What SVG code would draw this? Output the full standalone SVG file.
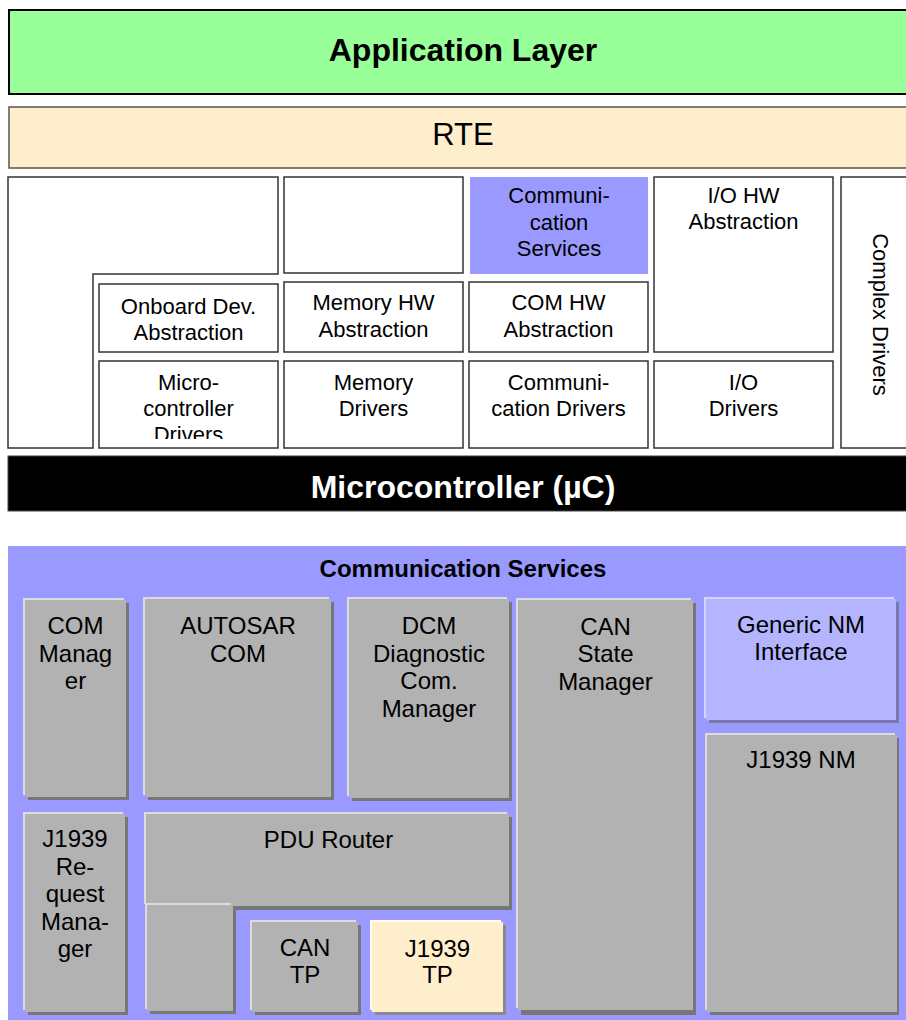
<svg xmlns="http://www.w3.org/2000/svg" width="906" height="1020" viewBox="0 0 906 1020">
<defs>
<style>
text{font-family:"Liberation Sans",Arial,Helvetica,sans-serif;fill:#000;text-anchor:middle}
.t22{font-size:22px}
.t24{font-size:24px}
.box{fill:#fff;stroke:#333;stroke-width:1.5}
.sh{fill:#777}
.hl{fill:#dcdcdc}
.bd{fill:#b2b2b2}
.shp{fill:#7a7aaa}
.hlp{fill:#d4d4ff}
.bdp{fill:#b5b5ff}
.hly{fill:#fffaf0}
.bdy{fill:#ffeecc}
.shy{fill:#8a8a8a}
</style>
<clipPath id="clipMC"><rect x="99" y="361" width="179" height="78"/></clipPath>
</defs>
<rect x="0" y="0" width="906" height="1020" fill="#fff"/>

<g id="application-layer">
<rect x="9" y="10" width="910" height="84" fill="#99ff99" stroke="#000" stroke-width="2"/>
<text x="463" y="61" style="font-size:32px;font-weight:bold">Application Layer</text>
</g>
<g id="rte">
<rect x="9" y="107" width="910" height="61" fill="#ffeecc" stroke="#555" stroke-width="1.5"/>
<text x="463" y="145" style="font-size:31px">RTE</text>
</g>

<g id="services-lshape"><path class="box" d="M8,177 H278 V274 H93 V448 H8 Z"/></g>
<g id="memory-services"><rect class="box" x="284" y="177" width="179" height="96"/></g>
<g id="communication-services-top">
<rect x="470" y="177" width="178" height="97" fill="#9999ff"/>
<text class="t22" x="559" y="203">Communi-</text>
<text class="t22" x="559" y="229.5">cation</text>
<text class="t22" x="559" y="256">Services</text>
</g>
<g id="io-hw-abstraction">
<rect class="box" x="654" y="177" width="179" height="175"/>
<text class="t22" x="743.5" y="203">I/O HW</text>
<text class="t22" x="743.5" y="229">Abstraction</text>
</g>
<g id="complex-drivers">
<rect class="box" x="841" y="177" width="80" height="271"/>
<text class="t22" transform="translate(873,314.5) rotate(90)">Complex Drivers</text>
</g>
<g id="onboard-dev-abstraction">
<rect class="box" x="99" y="284" width="179" height="68"/>
<text class="t22" x="188.5" y="314">Onboard Dev.</text>
<text class="t22" x="188.5" y="340">Abstraction</text>
</g>
<g id="memory-hw-abstraction">
<rect class="box" x="284" y="282" width="179" height="70"/>
<text class="t22" x="373.5" y="310">Memory HW</text>
<text class="t22" x="373.5" y="337">Abstraction</text>
</g>
<g id="com-hw-abstraction">
<rect class="box" x="469" y="282" width="179" height="70"/>
<text class="t22" x="558.5" y="310">COM HW</text>
<text class="t22" x="558.5" y="337">Abstraction</text>
</g>
<g id="microcontroller-drivers">
<rect class="box" x="99" y="361" width="179" height="87"/>
<g clip-path="url(#clipMC)">
<text class="t22" x="188.5" y="390">Micro-</text>
<text class="t22" x="188.5" y="416">controller</text>
<text class="t22" x="188.5" y="442">Drivers</text>
</g>
</g>
<g id="memory-drivers">
<rect class="box" x="284" y="361" width="179" height="87"/>
<text class="t22" x="373.5" y="390">Memory</text>
<text class="t22" x="373.5" y="416">Drivers</text>
</g>
<g id="communication-drivers">
<rect class="box" x="469" y="361" width="179" height="87"/>
<text class="t22" x="558.5" y="390">Communi-</text>
<text class="t22" x="558.5" y="416">cation Drivers</text>
</g>
<g id="io-drivers">
<rect class="box" x="654" y="361" width="179" height="87"/>
<text class="t22" x="743.5" y="390">I/O</text>
<text class="t22" x="743.5" y="416">Drivers</text>
</g>

<g id="microcontroller">
<rect x="8" y="456" width="910" height="55" fill="#000" stroke="#444" stroke-width="1"/>
<text x="463" y="498" style="font-size:32px;font-weight:bold;fill:#fff">Microcontroller (µC)</text>
</g>

<g id="communication-services">
<rect x="8" y="546" width="910" height="480" fill="#9999ff"/>
<text x="463" y="577" style="font-size:24px;font-weight:bold">Communication Services</text>
</g>

<g id="com-manager">
<rect class="sh" x="28" y="603" width="101" height="197"/>
<rect class="hl" x="23" y="598" width="101" height="197"/>
<rect class="bd" x="25" y="600" width="101" height="197"/>
<text class="t24" x="75.5" y="634">COM</text>
<text class="t24" x="75.5" y="661.5">Manag</text>
<text class="t24" x="75.5" y="689">er</text>
</g>
<g id="autosar-com">
<rect class="sh" x="148" y="602" width="186" height="198"/>
<rect class="hl" x="143" y="597" width="186" height="198"/>
<rect class="bd" x="145" y="599" width="186" height="198"/>
<text class="t24" x="238" y="634">AUTOSAR</text>
<text class="t24" x="238" y="661.5">COM</text>
</g>
<g id="dcm">
<rect class="sh" x="352" y="602" width="160" height="199"/>
<rect class="hl" x="347" y="597" width="160" height="199"/>
<rect class="bd" x="349" y="599" width="160" height="199"/>
<text class="t24" x="429" y="634">DCM</text>
<text class="t24" x="429" y="661.5">Diagnostic</text>
<text class="t24" x="429" y="689">Com.</text>
<text class="t24" x="429" y="716.5">Manager</text>
</g>
<g id="can-state-manager">
<rect class="sh" x="521" y="603" width="175" height="412"/>
<rect class="hl" x="516" y="598" width="175" height="410"/>
<rect class="bd" x="518" y="600" width="175" height="410"/>
<text class="t24" x="605.5" y="634.5">CAN</text>
<text class="t24" x="605.5" y="662">State</text>
<text class="t24" x="605.5" y="689.5">Manager</text>
</g>
<g id="generic-nm-interface">
<rect class="shp" x="709" y="602" width="190" height="121"/>
<rect class="hlp" x="704" y="597" width="190" height="121"/>
<rect class="bdp" x="706" y="599" width="190" height="121"/>
<text class="t24" x="801" y="632.5">Generic NM</text>
<text class="t24" x="801" y="660">Interface</text>
</g>
<g id="j1939-nm">
<rect class="sh" x="710" y="738" width="189" height="277"/>
<rect class="hl" x="705" y="733" width="190" height="277"/>
<rect class="bd" x="707" y="735" width="190" height="277"/>
<text class="t24" x="801" y="768">J1939 NM</text>
</g>
<g id="j1939-request-manager">
<rect class="sh" x="28" y="817" width="100" height="198"/>
<rect class="hl" x="23" y="812" width="100" height="198"/>
<rect class="bd" x="25" y="814" width="100" height="198"/>
<text class="t24" x="75" y="847">J1939</text>
<text class="t24" x="75" y="874.5">Re-</text>
<text class="t24" x="75" y="902">quest</text>
<text class="t24" x="75" y="929.5">Mana-</text>
<text class="t24" x="75" y="957">ger</text>
</g>
<g id="pdu-router">
<rect class="sh" x="149" y="817" width="363" height="93"/>
<rect class="hl" x="144" y="812" width="363" height="92"/>
<rect class="bd" x="146" y="814" width="363" height="92"/>
<rect class="sh" x="150" y="908" width="86" height="106"/>
<rect class="hl" x="145" y="903" width="86" height="106"/>
<rect class="bd" x="147" y="905" width="86" height="106"/>
<text class="t24" x="328.5" y="848">PDU Router</text>
</g>
<g id="can-tp">
<rect class="sh" x="255" y="925" width="106" height="90"/>
<rect class="hl" x="250" y="920" width="106" height="90"/>
<rect class="bd" x="252" y="922" width="106" height="90"/>
<text class="t24" x="305" y="956">CAN</text>
<text class="t24" x="305" y="983">TP</text>
</g>
<g id="j1939-tp">
<rect class="shy" x="375" y="925" width="131" height="90"/>
<rect class="hly" x="370" y="920" width="131" height="90"/>
<rect class="bdy" x="372" y="922" width="131" height="90"/>
<text class="t24" x="437.5" y="956.5">J1939</text>
<text class="t24" x="437.5" y="983">TP</text>
</g>

<g id="connectors"></g>
</svg>
